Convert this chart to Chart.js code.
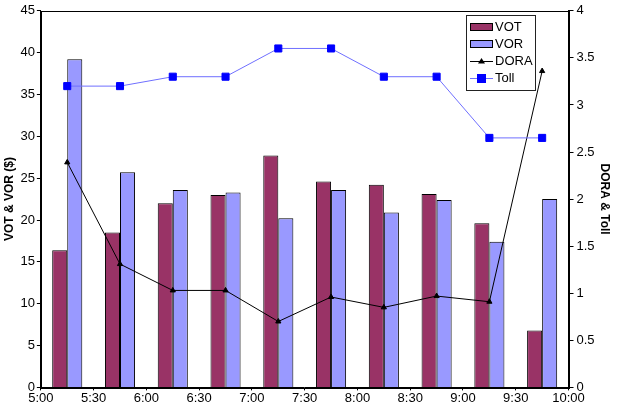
<!DOCTYPE html>
<html>
<head>
<meta charset="utf-8">
<script src="https://cdn.jsdelivr.net/npm/chart.js@4/dist/chart.umd.min.js"></script>
<style>
  html, body { margin: 0; padding: 0; background: #fff; }
</style>
</head>
<body>
<canvas id="chart" width="622" height="406"></canvas>
<script>
// half-hour periods (bars sit between the time ticks)
const periods = ["5:00-5:30", "5:30-6:00", "6:00-6:30", "6:30-7:00", "7:00-7:30",
                 "7:30-8:00", "8:00-8:30", "8:30-9:00", "9:00-9:30", "9:30-10:00"];
const timeTicks = ["5:00", "5:30", "6:00", "6:30", "7:00", "7:30", "8:00", "8:30", "9:00", "9:30", "10:00"];

const vot = [16.4, 18.5, 22.0, 23.0, 27.7, 24.6, 24.2, 23.1, 19.6, 6.8];
const vor = [39.2, 25.7, 23.6, 23.3, 20.2, 23.6, 20.9, 22.4, 17.4, 22.5];
const dora = [2.39, 1.31, 1.03, 1.03, 0.70, 0.96, 0.85, 0.97, 0.91, 3.36];
const toll = [3.2, 3.2, 3.3, 3.3, 3.6, 3.6, 3.3, 3.3, 2.65, 2.65];

const font = "'Liberation Sans', Arial, sans-serif";

// frame round the plot + legend box inside the plot
const framePlugin = {
  id: "frame",
  afterDraw(chart) {
    const ctx = chart.ctx;
    const a = chart.chartArea;
    ctx.save();
    ctx.strokeStyle = "#000";
    ctx.lineWidth = 1;
    ctx.strokeRect(Math.round(a.left) + 0.5, Math.round(a.top) + 0.5,
      Math.round(a.right - a.left), Math.round(a.bottom - a.top));

    // legend
    const bx = Math.round(a.right) - 103, by = Math.round(a.top) + 4;
    ctx.fillStyle = "#fff";
    ctx.fillRect(bx, by, 69, 75);
    ctx.strokeStyle = "#222";
    ctx.strokeRect(bx + 0.5, by + 0.5, 69, 75);
    const items = chart.data.datasets;
    ctx.font = "13px " + font;
    ctx.textBaseline = "middle";
    items.forEach((ds, i) => {
      const y = by + 12 + i * 17;
      const sx = bx + 4;
      if (ds.type === "bar") {
        ctx.fillStyle = ds.backgroundColor;
        ctx.fillRect(sx, y - 3.5, 22, 7);
        ctx.strokeStyle = "#000";
        ctx.strokeRect(sx + 0.5, y - 3.5, 22, 7);
      } else {
        ctx.strokeStyle = ds.borderColor;
        ctx.beginPath();
        ctx.moveTo(sx, y + 0.5);
        ctx.lineTo(sx + 23, y + 0.5);
        ctx.stroke();
        ctx.fillStyle = ds.pointBackgroundColor;
        if (ds.pointStyle === "rect") {
          ctx.fillRect(sx + 7, y - 4, 9, 9);
        } else {
          ctx.beginPath();
          ctx.moveTo(sx + 11.5, y - 3);
          ctx.lineTo(sx + 15, y + 2.5);
          ctx.lineTo(sx + 8, y + 2.5);
          ctx.closePath();
          ctx.fill();
        }
      }
      ctx.fillStyle = "#000";
      ctx.fillText(ds.label, sx + 25, y);
    });
    ctx.restore();
  }
};

new Chart(document.getElementById("chart").getContext("2d"), {
  data: {
    labels: periods,
    datasets: [
      {
        type: "bar",
        label: "VOT",
        data: vot,
        backgroundColor: "#993366",
        borderColor: "#000",
        borderWidth: 1,
        yAxisID: "y",
        order: 3
      },
      {
        type: "bar",
        label: "VOR",
        data: vor,
        backgroundColor: "#9999FF",
        borderColor: "#000",
        borderWidth: 1,
        yAxisID: "y",
        order: 4
      },
      {
        type: "line",
        label: "DORA",
        data: dora,
        borderColor: "#000",
        borderWidth: 1,
        pointStyle: "triangle",
        pointRadius: 3,
        pointBackgroundColor: "#000",
        pointBorderColor: "#000",
        tension: 0,
        yAxisID: "y1",
        order: 2
      },
      {
        type: "line",
        label: "Toll",
        data: toll,
        borderColor: "#6f6fff",
        borderWidth: 1,
        pointStyle: "rect",
        pointRadius: 5,
        pointBackgroundColor: "#0000FF",
        pointBorderColor: "#0000FF",
        tension: 0,
        yAxisID: "y1",
        order: 1
      }
    ]
  },
  options: {
    responsive: false,
    animation: false,
    layout: { padding: { top: 2, right: 4, left: 2, bottom: 0 } },
    plugins: {
      legend: { display: false },
      tooltip: { enabled: false }
    },
    datasets: {
      bar: { categoryPercentage: 0.57, barPercentage: 1.0 }
    },
    scales: {
      x: {
        type: "category",
        display: false,
        offset: true
      },
      xt: {
        type: "linear",
        position: "bottom",
        min: 0,
        max: 10,
        ticks: {
          stepSize: 1,
          autoSkip: false,
          maxRotation: 0,
          color: "#000",
          font: { family: font, size: 13 },
          padding: 0,
          callback: (v) => timeTicks[v]
        },
        grid: { drawOnChartArea: false, color: "#000", tickLength: 3 },
        border: { color: "#000" }
      },
      y: {
        position: "left",
        min: 0,
        max: 45,
        ticks: {
          stepSize: 5,
          color: "#000",
          font: { family: font, size: 13 },
          padding: 2
        },
        grid: { drawOnChartArea: false, color: "#000", tickLength: 4 },
        border: { color: "#000" },
        title: {
          display: true,
          text: "VOT & VOR ($)",
          color: "#000",
          font: { family: font, size: 12, weight: "bold" },
          padding: { top: 0, bottom: 2 }
        }
      },
      y1: {
        position: "right",
        min: 0,
        max: 4,
        ticks: {
          stepSize: 0.5,
          color: "#000",
          font: { family: font, size: 13 },
          padding: 3,
          callback: (v) => String(v)
        },
        grid: { drawOnChartArea: false, color: "#000", tickLength: 5 },
        border: { color: "#000" },
        title: {
          display: true,
          text: "DORA & Toll",
          color: "#000",
          font: { family: font, size: 12, weight: "bold" },
          padding: { top: 6, bottom: 0 }
        }
      }
    }
  },
  plugins: [framePlugin]
});
</script>
</body>
</html>
